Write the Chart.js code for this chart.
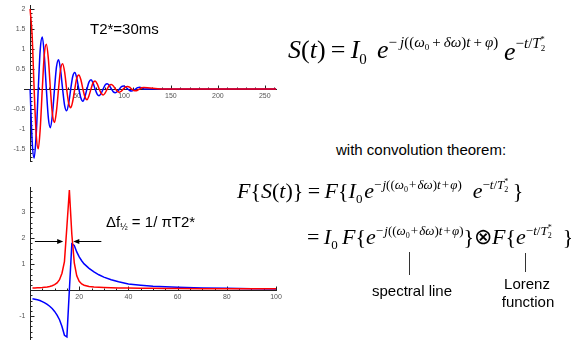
<!DOCTYPE html>
<html>
<head>
<meta charset="utf-8">
<script src="https://cdn.jsdelivr.net/npm/chart.js@4.4.1/dist/chart.umd.min.js"></script>
<style>
html, body { margin: 0; padding: 0; background: #fff; }
#wrap { position: relative; width: 571px; height: 344px; overflow: hidden; }
canvas { position: absolute; }
.tx { position: absolute; white-space: nowrap; line-height: 1; color: #000; }
.sf { font-family: "Liberation Sans", Arial, sans-serif; }
.rm { font-family: "Liberation Serif", "Times New Roman", serif; }
.sb { position: relative; }
.sp { position: relative; }
.vl { position: absolute; width: 1px; background: #333; }
</style>
</head>
<body>
<div id="wrap">
  <canvas id="fidChart" width="290" height="175" style="left:0;top:0"></canvas>
  <canvas id="specChart" width="290" height="174" style="left:0;top:170px"></canvas>

  <div class="tx sf" style="left:90px;top:21px;font-size:15px">T2*=30ms</div>
  <div class="tx sf" style="left:106px;top:214px;font-size:15px">Δf<span class="sb" style="font-size:9px;top:3px">½</span> = 1/ πT2*</div>

  <div class="tx rm" style="left:288px;top:37px;font-size:26px"><i>S</i>(<i>t</i>)&thinsp;=&thinsp;<i>I</i><span class="sb" style="font-size:15px;top:6px">0</span></div>
  <div class="tx rm" style="left:377px;top:37px;font-size:26px"><i>e</i><span class="sp" style="font-size:15px;top:-11px">−&thinsp;<i>j</i>((<i>ω</i><span class="sb" style="font-size:9px;top:3px">0</span>&thinsp;+&thinsp;<i>δω</i>)<i>t</i>&thinsp;+&thinsp;<i>φ</i>)</span></div>
  <div class="tx rm" style="left:504px;top:39px;font-size:26px"><i>e</i><span class="sp" style="font-size:15px;top:-12px">−<i>t</i>/<i>T</i><span class="sb" style="font-size:9px;top:3px">2</span><span class="sb" style="font-size:9px;top:-6px;margin-left:-5px">*</span></span></div>

  <div class="tx sf" style="left:336px;top:142px;font-size:15px">with convolution theorem:</div>

  <div class="tx rm" style="left:237px;top:180px;font-size:22px"><i>F</i>{<i>S</i>(<i>t</i>)}&thinsp;=&thinsp;<i>F</i>{<i>I</i><span class="sb" style="font-size:13px;top:5px">0</span>&#8202;<i>e</i><span class="sp" style="font-size:13px;top:-9px">−&#8202;<i>j</i>((<i>ω</i><span class="sb" style="font-size:8px;top:3px">0</span>&#8202;+&#8202;<i>δω</i>)<i>t</i>&#8202;+&#8202;<i>φ</i>)</span>&ensp;<i>e</i><span class="sp" style="font-size:13px;top:-9px">−<i>t</i>/<i>T</i><span class="sb" style="font-size:8px;top:3px">2</span><span class="sb" style="font-size:8px;top:-5px;margin-left:-4px">*</span></span>&thinsp;}</div>

  <div class="tx rm" style="left:307px;top:226px;font-size:22px">=&thinsp;<i>I</i><span class="sb" style="font-size:13px;top:5px">0</span>&thinsp;<i>F</i>{<i>e</i><span class="sp" style="font-size:13px;top:-9px">−&#8202;<i>j</i>((<i>ω</i><span class="sb" style="font-size:8px;top:3px">0</span>&#8202;+&#8202;<i>δω</i>)<i>t</i>&#8202;+&#8202;<i>φ</i>)</span>}⊗<i>F</i>{<i>e</i><span class="sp" style="font-size:13px;top:-9px">−<i>t</i>/<i>T</i><span class="sb" style="font-size:8px;top:3px">2</span><span class="sb" style="font-size:8px;top:-5px;margin-left:-4px">*</span></span>&ensp;}</div>

  <div class="vl" style="left:409px;top:252px;height:23px"></div>
  <div class="vl" style="left:525px;top:253px;height:19px"></div>
  <div class="tx sf" style="left:372px;top:283px;font-size:15px">spectral line</div>
  <div class="tx sf" style="left:500px;top:276px;font-size:15px;text-align:center;width:54px">Lorenz</div>
  <div class="tx sf" style="left:499px;top:294px;font-size:15px;text-align:center;width:58px">function</div>
</div>

<script>
// free induction decay, T2* = 30 ms (red: real part, blue: imaginary part)
const fidTime = [
  0, 2.2, 4.3, 6.5, 8.7, 10.8, 13.0, 15.1,
  17.3, 19.5, 21.6, 23.8, 26.0, 28.1, 30.3, 32.4,
  34.6, 36.8, 38.9, 41.1, 43.3, 45.4, 47.6, 49.7,
  51.9, 54.1, 56.2, 58.4, 60.6, 62.7, 64.9, 67.0,
  69.2, 71.4, 73.5, 75.7, 77.9, 80.0, 82.2, 84.3,
  86.5, 88.7, 90.8, 93.0, 95.2, 97.3, 99.5, 101.6,
  103.8, 106.0, 108.1, 110.3, 112.5, 114.6, 116.8, 118.9,
  121.1, 140, 262
];
const fidReal = [
  2.00, 1.32, 0, -1.14, -1.50, -0.99, 0, 0.85,
  1.12, 0.74, 0, -0.64, -0.84, -0.55, 0, 0.48,
  0.63, 0.42, 0, -0.36, -0.47, -0.31, 0, 0.27,
  0.35, 0.23, 0, -0.20, -0.27, -0.17, 0, 0.15,
  0.20, 0.13, 0, -0.11, -0.15, -0.10, 0, 0.085,
  0.11, 0.074, 0, -0.064, -0.084, -0.055, 0, 0.048,
  0.063, 0.041, 0, -0.036, -0.047, -0.031, 0, 0.027,
  0.035, 0, 0
];
const fidImag = [
  0, -1.32, -1.73, -1.14, 0, 0.99, 1.30, 0.85,
  0, -0.74, -0.97, -0.64, 0, 0.55, 0.73, 0.48,
  0, -0.42, -0.55, -0.36, 0, 0.31, 0.41, 0.27,
  0, -0.23, -0.31, -0.20, 0, 0.17, 0.23, 0.15,
  0, -0.13, -0.17, -0.11, 0, 0.10, 0.13, 0.085,
  0, -0.074, -0.097, -0.064, 0, 0.055, 0.073, 0.048,
  0, -0.041, -0.054, -0.036, 0, 0.031, 0.041, 0.027,
  0, 0, 0
];
const fidXTicks = [50, 100, 150, 200, 250];
const fidYTicks = [-1.5, -1, -0.5, 0.5, 1, 1.5, 2];

// spectrum (red: absorption, blue: dispersion)
const freqBins = [
  1, 2, 3, 4, 5, 6, 7, 8, 9, 10, 11, 12, 13, 14, 15, 16, 17, 18, 19, 20, 21, 22,
  24, 26, 28, 30, 33, 36, 40, 45, 50, 55, 60, 70, 80, 90, 100
];
const specReal = [
  0.08, 0.085, 0.09, 0.095, 0.10, 0.11, 0.12, 0.14, 0.17, 0.21, 0.28, 0.40, 0.65, 1.10, 2.45, 3.85, 2.15, 1.05, 0.55, 0.34, 0.24, 0.19,
  0.14, 0.12, 0.11, 0.10, 0.09, 0.085, 0.08, 0.075, 0.07, 0.065, 0.06, 0.055, 0.05, 0.05, 0.05
];
const specImag = [
  -0.33, -0.35, -0.37, -0.40, -0.44, -0.49, -0.55, -0.62, -0.71, -0.82, -0.96, -1.14, -1.40, -1.74, -1.80, 0, 1.78, 1.72, 1.47, 1.28, 1.13, 1.01,
  0.84, 0.70, 0.59, 0.50, 0.40, 0.32, 0.24, 0.19, 0.15, 0.13, 0.11, 0.085, 0.07, 0.055, 0.045
];
const specXTicks = [20, 40, 60, 80, 100];
const specYTicks = [-1, 1, 2, 3];

// Mathematica style axes crossing at the origin
const mathAxes = {
  id: 'mathAxes',
  beforeDatasetsDraw(chart, args, opts) {
    const { ctx, chartArea: a, scales: { x, y } } = chart;
    const x0 = Math.round(x.getPixelForValue(0)) + 0.5;
    const y0 = Math.round(y.getPixelForValue(0)) + 0.5;
    ctx.save();
    ctx.strokeStyle = '#222';
    ctx.lineWidth = 1;
    ctx.beginPath();
    ctx.moveTo(a.left, y0); ctx.lineTo(a.right, y0);
    ctx.moveTo(x0, a.top); ctx.lineTo(x0, a.bottom);
    ctx.stroke();

    ctx.beginPath();
    for (let v = opts.xMinor; v <= x.max; v += opts.xMinor) {
      const px = Math.round(x.getPixelForValue(v)) + 0.5;
      const major = opts.xTicks.includes(Math.round(v * 1000) / 1000);
      ctx.moveTo(px, y0); ctx.lineTo(px, y0 - (major ? 4 : 2));
    }
    for (let v = Math.ceil(y.min / opts.yMinor) * opts.yMinor; v <= y.max; v += opts.yMinor) {
      const r = Math.round(v * 1000) / 1000;
      if (r === 0) continue;
      const py = Math.round(y.getPixelForValue(r)) + 0.5;
      const major = opts.yTicks.includes(r);
      ctx.moveTo(x0, py); ctx.lineTo(x0 + (major ? 4 : 2), py);
    }
    ctx.stroke();

    ctx.fillStyle = '#555';
    ctx.font = '7px "Liberation Sans", Arial, sans-serif';
    ctx.textAlign = 'center';
    ctx.textBaseline = 'middle';
    opts.xTicks.forEach(v => ctx.fillText(String(v), x.getPixelForValue(v), y0 + 7));
    ctx.textAlign = 'right';
    opts.yTicks.forEach(v => ctx.fillText(String(v), x0 - 5, y.getPixelForValue(v)));
    ctx.restore();
  },
  afterDatasetsDraw(chart, args, opts) {
    if (!opts.arrows) return;
    const { ctx, scales: { x, y } } = chart;
    ctx.save();
    ctx.strokeStyle = '#000';
    ctx.fillStyle = '#000';
    ctx.lineWidth = 1;
    opts.arrows.forEach(ar => {
      const py = Math.round(y.getPixelForValue(ar.y)) + 0.5;
      const p1 = x.getPixelForValue(ar.from);
      const p2 = x.getPixelForValue(ar.to);
      const dir = Math.sign(p2 - p1);
      ctx.beginPath();
      ctx.moveTo(p1, py); ctx.lineTo(p2 - dir * 4, py);
      ctx.stroke();
      ctx.beginPath();
      ctx.moveTo(p2, py);
      ctx.lineTo(p2 - dir * 6, py - 2.5);
      ctx.lineTo(p2 - dir * 6, py + 2.5);
      ctx.closePath();
      ctx.fill();
    });
    ctx.restore();
  }
};

function pairs(xs, ys) {
  return xs.map((v, i) => ({ x: v, y: ys[i] }));
}

function makeChart(id, xs, re, im, cfg) {
  return new Chart(document.getElementById(id), {
    type: 'line',
    data: {
      datasets: [
        { data: pairs(xs, re), borderColor: '#ff0000', borderWidth: 1.5, pointRadius: 0, tension: cfg.tension, cubicInterpolationMode: cfg.mode },
        { data: pairs(xs, im), borderColor: '#0000ff', borderWidth: 1.5, pointRadius: 0, tension: cfg.tension, cubicInterpolationMode: cfg.mode }
      ]
    },
    options: {
      responsive: false,
      maintainAspectRatio: false,
      devicePixelRatio: 1,
      animation: false,
      events: [],
      layout: { padding: cfg.padding },
      plugins: {
        legend: { display: false },
        tooltip: { enabled: false },
        mathAxes: cfg.axes
      },
      scales: {
        x: { type: 'linear', display: false, min: cfg.xMin, max: cfg.xMax },
        y: { type: 'linear', display: false, min: cfg.yMin, max: cfg.yMax }
      }
    },
    plugins: [mathAxes]
  });
}

makeChart('fidChart', fidTime, fidReal, fidImag, {
  mode: 'monotone', tension: 0.4,
  padding: { left: 24, right: 13, top: 5, bottom: 13 },
  xMin: -6.5, xMax: 263, yMin: -1.83, yMax: 2.1,
  axes: { xTicks: fidXTicks, yTicks: fidYTicks, xMinor: 10, yMinor: 0.1 }
});

makeChart('specChart', freqBins, specReal, specImag, {
  mode: 'default', tension: 0,
  padding: { left: 30, right: 13, top: 17, bottom: 4 },
  xMin: 0, xMax: 100.4, yMin: -1.92, yMax: 3.97,
  axes: {
    xTicks: specXTicks, yTicks: specYTicks, xMinor: 5, yMinor: 0.2,
    arrows: [{ from: 2, to: 13.5, y: 1.88 }, { from: 29, to: 17.6, y: 1.88 }]
  }
});
</script>
</body>
</html>
